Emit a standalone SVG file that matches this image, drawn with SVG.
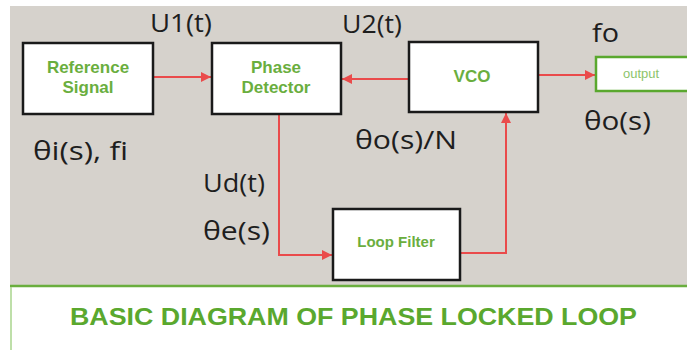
<svg xmlns="http://www.w3.org/2000/svg" width="687" height="350" viewBox="0 0 687 350">
<defs>
<style>
.box{fill:#ffffff;stroke:#1a1a1a;stroke-width:2.5}
.bt{font-family:"Liberation Sans",Arial,sans-serif;font-weight:bold;fill:#6aae3e;text-anchor:middle}
.lb{font-family:"Open Sans","Liberation Sans",sans-serif;fill:#1e1e1e;font-size:25px}
.cn{fill:none;stroke:#ea4b4b;stroke-width:2}
</style>
<marker id="ah" viewBox="0 0 10 10" refX="10" refY="5" markerWidth="5" markerHeight="5" orient="auto" markerUnits="strokeWidth">
<path d="M0,0 L10,5 L0,10 z" fill="#ea4b4b"/>
</marker>
</defs>
<rect x="0" y="0" width="687" height="350" fill="#ffffff"/>
<rect x="10" y="6" width="677" height="280" fill="#d6d2cc"/>
<line x1="10" y1="286" x2="687" y2="286" stroke="#6aae3e" stroke-width="2.5"/>
<line x1="11" y1="287" x2="11" y2="350" stroke="#a8d48c" stroke-width="1.5"/>

<g id="connectors">
<path class="cn" d="M153,77 L211,77" marker-end="url(#ah)"/>
<path class="cn" d="M409,79 L342,79" marker-end="url(#ah)"/>
<path class="cn" d="M538,75 L595,75" marker-end="url(#ah)"/>
<path class="cn" d="M279,114 L279,255 L332,255" marker-end="url(#ah)"/>
<path class="cn" d="M460,253 L506,253 L506,113" marker-end="url(#ah)"/>
</g>

<g id="reference-signal">
<rect class="box" x="23" y="43" width="130" height="71"/>
<text class="bt" x="88" y="73" font-size="17">Reference</text>
<text class="bt" x="88" y="93" font-size="17">Signal</text>
</g>
<g id="phase-detector">
<rect class="box" x="212" y="43" width="129" height="71"/>
<text class="bt" x="276" y="73" font-size="17">Phase</text>
<text class="bt" x="276" y="93" font-size="17">Detector</text>
</g>
<g id="vco">
<rect class="box" x="409" y="42" width="129" height="70"/>
<text class="bt" x="472" y="82" font-size="17">VCO</text>
</g>
<g id="output">
<rect x="596" y="57" width="100" height="34" fill="#ffffff" stroke="#5aa82e" stroke-width="2.5"/>
<text x="641" y="78" font-family="Liberation Sans,Arial,sans-serif" font-size="13" fill="#8cc46a" text-anchor="middle">output</text>
</g>
<g id="loop-filter">
<rect class="box" x="333" y="209" width="127" height="71"/>
<text class="bt" x="396" y="247" font-size="15">Loop Filter</text>
</g>

<g id="labels">
<text class="lb" x="150" y="32" textLength="62" lengthAdjust="spacingAndGlyphs">U1(t)</text>
<text class="lb" x="342" y="33" textLength="60" lengthAdjust="spacingAndGlyphs">U2(t)</text>
<text class="lb" x="592" y="42" textLength="27" lengthAdjust="spacingAndGlyphs">fo</text>
<text class="lb" x="584" y="130" textLength="67" lengthAdjust="spacingAndGlyphs">θo(s)</text>
<text class="lb" x="355" y="149" textLength="102" lengthAdjust="spacingAndGlyphs">θo(s)/N</text>
<text class="lb" x="33" y="160" textLength="95" lengthAdjust="spacingAndGlyphs">θi(s), fi</text>
<text class="lb" x="203" y="192" textLength="62" lengthAdjust="spacingAndGlyphs">Ud(t)</text>
<text class="lb" x="203" y="240" textLength="67" lengthAdjust="spacingAndGlyphs">θe(s)</text>
</g>

<text x="70" y="325" font-family="Liberation Sans,Arial,sans-serif" font-weight="bold" font-size="24" fill="#5aa82e" textLength="567" lengthAdjust="spacingAndGlyphs">BASIC DIAGRAM OF PHASE LOCKED LOOP</text>
</svg>
